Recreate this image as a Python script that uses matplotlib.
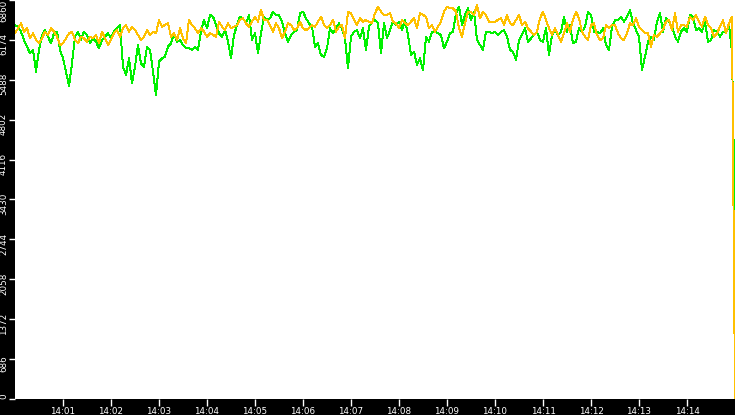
import matplotlib
matplotlib.use('Agg')
import matplotlib.pyplot as plt
import matplotlib.dates as mdates
import matplotlib.transforms as mtransforms
import pandas as pd

# samples from 14:00:00, one every 3.75 s, last one at 14:15:00
start_time = '2020-01-01 14:00:00'
sample_step = '3750ms'

green = [6430, 6402, 6316, 6172, 6058, 5943, 6001, 5628, 6001, 6258,
         6344, 6230, 6115, 6287, 6316, 6001, 5857, 5628, 5382, 5771,
         6230, 6316, 6172, 6316, 6258, 6115, 6201, 6144, 6029, 6172,
         6230, 6287, 6201, 6316, 6373, 6430, 5714, 5571, 5857, 5428,
         5714, 6086, 5771, 5714, 6058, 6001, 5628, 5227, 5800, 5857,
         5886, 6058, 6115, 6287, 6144, 6172, 6086, 6029, 6029, 6001,
         6058, 6001, 6316, 6516, 6373, 6602, 6574, 6430, 6287, 6230,
         6344, 6144, 5857, 6258, 6430, 6574, 6545, 6459, 6602, 6172,
         6287, 5943, 6287, 6574, 6516, 6545, 6659, 6602, 6602, 6488,
         6287, 6144, 6258, 6316, 6344, 6631, 6659, 6545, 6459, 6402,
         6058, 6115, 5915, 5886, 6029, 6373, 6287, 6373, 6459, 6373,
         6201, 5685, 6230, 6316, 6344, 6201, 6373, 6001, 6402, 6488,
         6516, 6459, 5943, 6459, 6201, 6344, 6488, 6430, 6488, 6344,
         6516, 6258, 5915, 5972, 5743, 5857, 5657, 6230, 6144, 6316,
         6316, 6287, 6258, 6029, 6144, 6287, 6316, 6631, 6745, 6430,
         6602, 6717, 6516, 6659, 6172, 6086, 6001, 6316, 6316, 6287,
         6316, 6258, 6316, 6344, 6230, 6001, 5972, 5829, 6172, 6258,
         6373, 6144, 6201, 6258, 6316, 6172, 6144, 6373, 5915, 6258,
         6344, 6258, 6316, 6574, 6316, 6430, 6115, 6144, 6373, 6316,
         6402, 6659, 6602, 6316, 6316, 6287, 6373, 6086, 6001, 6402,
         6516, 6516, 6574, 6488, 6574, 6688, 6459, 6344, 6230, 5657,
         5886, 6144, 6230, 6172, 6488, 6631, 6316, 6545, 6488, 6402,
         6230, 6144, 6316, 6373, 6316, 6602, 6574, 6344, 6373, 6316,
         6488, 6144, 6172, 6344, 6316, 6230, 6316, 6316, 6430, 5972,
         2990]

orange = [6287, 6373, 6459, 6316, 6373, 6201, 6287, 6172, 6115, 6201,
          6316, 6258, 6373, 6316, 6230, 6086, 6115, 6201, 6287, 6316,
          6172, 6115, 6230, 6201, 6144, 6230, 6201, 6258, 6115, 6316,
          6201, 6086, 6172, 6287, 6344, 6230, 6373, 6430, 6316, 6402,
          6344, 6258, 6172, 6230, 6344, 6258, 6316, 6287, 6516, 6402,
          6430, 6459, 6230, 6287, 6172, 6373, 6201, 6115, 6516, 6430,
          6373, 6287, 6373, 6316, 6230, 6287, 6258, 6230, 6488, 6402,
          6344, 6459, 6373, 6402, 6430, 6516, 6545, 6459, 6402, 6488,
          6574, 6488, 6688, 6516, 6516, 6430, 6316, 6459, 6373, 6201,
          6316, 6459, 6430, 6344, 6373, 6488, 6373, 6344, 6373, 6430,
          6402, 6488, 6574, 6430, 6373, 6430, 6516, 6316, 6402, 6430,
          6201, 6659, 6631, 6516, 6430, 6545, 6488, 6516, 6488, 6459,
          6631, 6745, 6659, 6602, 6602, 6631, 6488, 6459, 6373, 6516,
          6459, 6430, 6488, 6545, 6373, 6631, 6602, 6574, 6373, 6430,
          6316, 6402, 6488, 6659, 6745, 6717, 6717, 6659, 6373, 6230,
          6459, 6659, 6659, 6602, 6774, 6545, 6659, 6602, 6488, 6488,
          6488, 6516, 6545, 6430, 6602, 6459, 6430, 6516, 6602, 6430,
          6488, 6373, 6316, 6258, 6316, 6545, 6659, 6516, 6373, 6258,
          6373, 6258, 6144, 6287, 6459, 6316, 6516, 6659, 6545, 6316,
          6230, 6172, 6430, 6459, 6258, 6172, 6201, 6430, 6373, 6430,
          6430, 6287, 6201, 6172, 6287, 6459, 6430, 6545, 6402, 6344,
          6287, 6287, 6058, 6258, 6230, 6287, 6344, 6488, 6516, 6344,
          6631, 6316, 6430, 6430, 6402, 6574, 6516, 6602, 6488, 6402,
          6574, 6430, 6373, 6230, 6287, 6402, 6516, 6287, 6459, 6574,
          0]

y_ticks = [0, 686, 1372, 2058, 2744, 3430, 4116, 4802, 5488, 6174, 6860]
x_ticks = ['14:01', '14:02', '14:03', '14:04', '14:05', '14:06', '14:07',
           '14:08', '14:09', '14:10', '14:11', '14:12', '14:13', '14:14']


def main():
    times = pd.date_range(start_time, periods=len(green), freq=sample_step)

    fig = plt.figure(figsize=(7.35, 4.15), dpi=100, facecolor='black')
    ax = fig.add_axes([15 / 735, 16 / 415, 720 / 735, 399 / 415])
    ax.set_facecolor('white')

    ax.plot(times, green, color='#00f000', lw=0.7, antialiased=False)
    ax.plot(times, orange, color='#ffc000', lw=0.7, antialiased=False)

    ax.set_xlim(times[0], times[-1])
    ax.set_ylim(0, 6860)

    ax.set_yticks(y_ticks)
    ax.set_yticklabels([str(t) for t in y_ticks], rotation=90, va='center')
    day = start_time.split(' ')[0]
    ax.set_xticks(pd.to_datetime([day + ' ' + t for t in x_ticks]))
    ax.xaxis.set_major_formatter(mdates.DateFormatter('%H:%M'))

    for s in ax.spines.values():
        s.set_visible(False)
    ax.tick_params(colors='white', labelsize=6.3, width=1)
    ax.tick_params(axis='y', length=4, pad=1)
    ax.tick_params(axis='x', length=5, pad=0.5)

    # labels sit a bit below their tick, end ones kept inside the plot
    down = mtransforms.ScaledTranslation(0, -4.5 / 100, fig.dpi_scale_trans)
    labels = ax.get_yticklabels()
    for lab in labels[1:-1]:
        lab.set_transform(lab.get_transform() + down)
    labels[0].set_va('bottom')
    labels[-1].set_va('top')

    fig.savefig('out.png', dpi=100, facecolor='black')


if __name__ == '__main__':
    main()
